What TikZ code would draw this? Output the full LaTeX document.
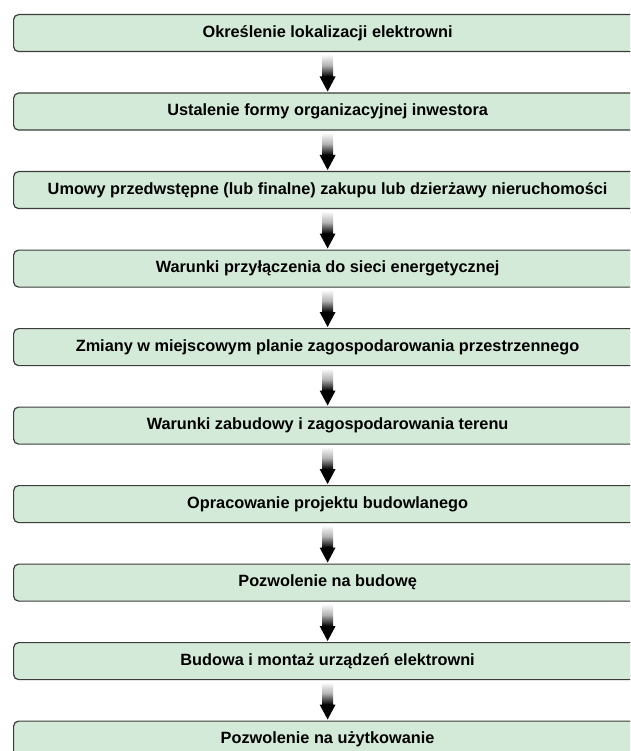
\documentclass[tikz,border=0pt]{standalone}
\usepackage{fontspec}
\setmainfont{Liberation Sans}
\usetikzlibrary{calc}
\definecolor{boxfill}{RGB}{211,234,216}
\definecolor{boxline}{RGB}{60,60,60}
\tikzset{
  stepbox/.style={draw=boxline, line width=1.2pt, fill=boxfill, rounded corners=5pt,
    minimum width=628pt, minimum height=37pt, anchor=north west, inner sep=0pt,
    font=\fontsize{16.3}{18}\selectfont\bfseries, text=black},
}
\newcommand\gradarrow[2]{%
  \shade[top color=white, bottom color=black, middle color=gray!60]
    ($(#1.south)+(-5.5,2)$) rectangle ($(#2.north)+(5.5,-16)$);
  \fill[black] ($(#2.north)+(-8,-16)$) -- ($(#2.north)+(8,-16)$) -- ($(#2.north)+(0,-1)$) -- cycle;
}
\begin{document}
\begin{tikzpicture}[x=1pt,y=-1pt]
\useasboundingbox (0,0) rectangle (630,751);
\clip (0,0) rectangle (630,751);
\fill[white] (0,0) rectangle (630,751);
\node[stepbox] (b1)  at (13,14)    {Określenie lokalizacji elektrowni};
\node[stepbox] (b2)  at (13,92.5)  {Ustalenie formy organizacyjnej inwestora};
\node[stepbox] (b3)  at (13,171)   {Umowy przedwstępne (lub finalne) zakupu lub dzierżawy nieruchomości};
\node[stepbox] (b4)  at (13,249.5) {Warunki przyłączenia do sieci energetycznej};
\node[stepbox] (b5)  at (13,328)   {Zmiany w miejscowym planie zagospodarowania przestrzennego};
\node[stepbox] (b6)  at (13,406.5) {Warunki zabudowy i zagospodarowania terenu};
\node[stepbox] (b7)  at (13,485)   {Opracowanie projektu budowlanego};
\node[stepbox] (b8)  at (13,563.5) {Pozwolenie na budowę};
\node[stepbox] (b9)  at (13,642)   {Budowa i montaż urządzeń elektrowni};
\node[stepbox] (b10) at (13,720.5) {Pozwolenie na użytkowanie};
\gradarrow{b1}{b2}
\gradarrow{b2}{b3}
\gradarrow{b3}{b4}
\gradarrow{b4}{b5}
\gradarrow{b5}{b6}
\gradarrow{b6}{b7}
\gradarrow{b7}{b8}
\gradarrow{b8}{b9}
\gradarrow{b9}{b10}
\end{tikzpicture}
\end{document}
